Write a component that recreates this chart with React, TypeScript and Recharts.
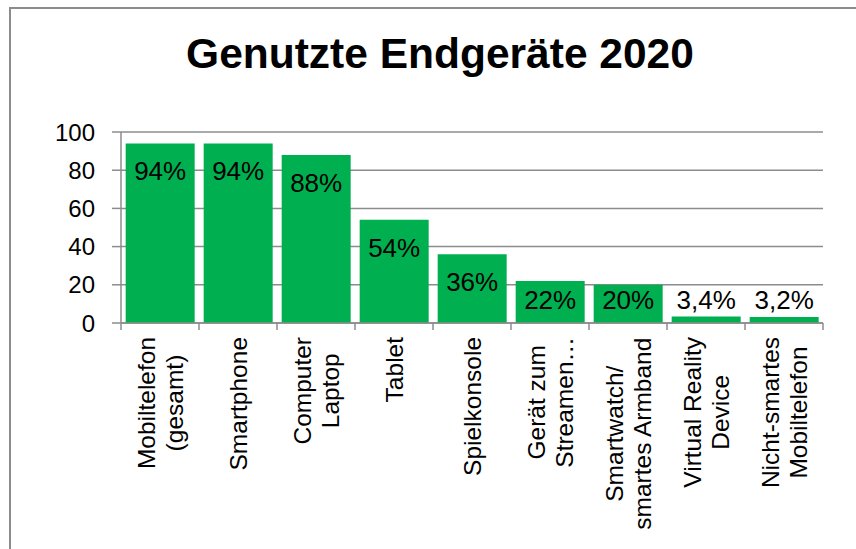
import React from "react";
import { BarChart, Bar, XAxis, YAxis, CartesianGrid, LabelList } from "recharts";

const categories = [
  "Mobiltelefon\n(gesamt)",
  "Smartphone",
  "Computer\nLaptop",
  "Tablet",
  "Spielkonsole",
  "Gerät zum\nStreamen…",
  "Smartwatch/\nsmartes Armband",
  "Virtual Reality\nDevice",
  "Nicht-smartes\nMobiltelefon",
];
const values = [94, 94, 88, 54, 36, 22, 20, 3.4, 3.2];
const yTicks = [0, 20, 40, 60, 80, 100];

const data = categories.map((name, i) => ({ name, value: values[i] }));

const FONT = "'Liberation Sans', Arial, sans-serif";
const GRID = "#8c8c8c";
const GREEN = "#00b050";
const X_FONT = 24.5;

let ctx: CanvasRenderingContext2D | null = null;
function textWidth(t: string) {
  if (!ctx) {
    ctx = document.createElement("canvas").getContext("2d");
  }
  if (!ctx) return t.length * X_FONT * 0.5;
  ctx.font = `${X_FONT}px ${FONT}`;
  return ctx.measureText(t).width;
}

function XTick(props: any) {
  const { x, y, payload, index } = props;
  const bw = payload && payload.offset ? payload.offset * 2 : 78;
  const lines = String(payload.value).split("\n");
  const last = index === categories.length - 1;
  const maxW = Math.max(...lines.map(textWidth));
  return (
    <g>
      <line x1={x - bw / 2} x2={x - bw / 2} y1={y} y2={y + 7} stroke={GRID} strokeWidth={1.5} />
      {last && <line x1={x + bw / 2} x2={x + bw / 2} y1={y} y2={y + 7} stroke={GRID} strokeWidth={1.5} />}
      <g transform={`translate(${x},${y + 14}) rotate(-90)`}>
        {lines.map((t, i) => (
          <text
            key={i}
            x={-maxW / 2}
            y={(i - (lines.length - 1) / 2) * 28 + 8.5}
            textAnchor="middle"
            fontSize={X_FONT}
            fontFamily={FONT}
            fill="#000"
          >
            {t}
          </text>
        ))}
      </g>
    </g>
  );
}

function BarLabel(props: any) {
  const { x, y, width, height, value } = props;
  const cy = Math.min(y + 28, y + height - 23);
  return (
    <text
      x={x + width / 2}
      y={cy}
      textAnchor="middle"
      dominantBaseline="central"
      fontSize={26}
      fontFamily={FONT}
      fill="#000"
    >
      {String(value).replace(".", ",") + "%"}
    </text>
  );
}

export default function App() {
  return (
    <div style={{ position: "fixed", left: 0, top: 0, width: 856, height: 549, background: "#fff", overflow: "hidden" }}>
      <div
        style={{
          position: "absolute",
          left: 9,
          top: 7,
          width: 900,
          height: 600,
          borderTop: `2px solid ${GRID}`,
          borderLeft: `2px solid ${GRID}`,
        }}
      />
      <div style={{ position: "absolute", left: 0, top: 0 }}>
        <BarChart
          width={856}
          height={549}
          data={data}
          margin={{ top: 132, right: 33, bottom: 26, left: 0 }}
          barCategoryGap="6%"
        >
          <CartesianGrid vertical={false} stroke={GRID} strokeWidth={1.5} />
          <XAxis
            dataKey="name"
            interval={0}
            height={200}
            tickLine={false}
            tickSize={0}
            tickMargin={0}
            axisLine={{ stroke: GRID, strokeWidth: 1.5 }}
            tick={<XTick />}
          />
          <YAxis
            width={121}
            domain={[0, 100]}
            ticks={yTicks}
            interval={0}
            tickSize={9}
            tickMargin={17}
            axisLine={{ stroke: GRID, strokeWidth: 1.5 }}
            tickLine={{ stroke: GRID, strokeWidth: 1.5 }}
            tick={{ fontSize: 24, fontFamily: FONT, fill: "#000" }}
          />
          <Bar dataKey="value" fill={GREEN} isAnimationActive={false}>
            <LabelList dataKey="value" content={<BarLabel />} />
          </Bar>
        </BarChart>
      </div>
      <svg width={856} height={549} style={{ position: "absolute", left: 0, top: 0, pointerEvents: "none" }}>
        <text x={440} y={68} textAnchor="middle" fontSize={42.5} fontWeight="bold" fontFamily={FONT} fill="#000">
          Genutzte Endgeräte 2020
        </text>
      </svg>
    </div>
  );
}
